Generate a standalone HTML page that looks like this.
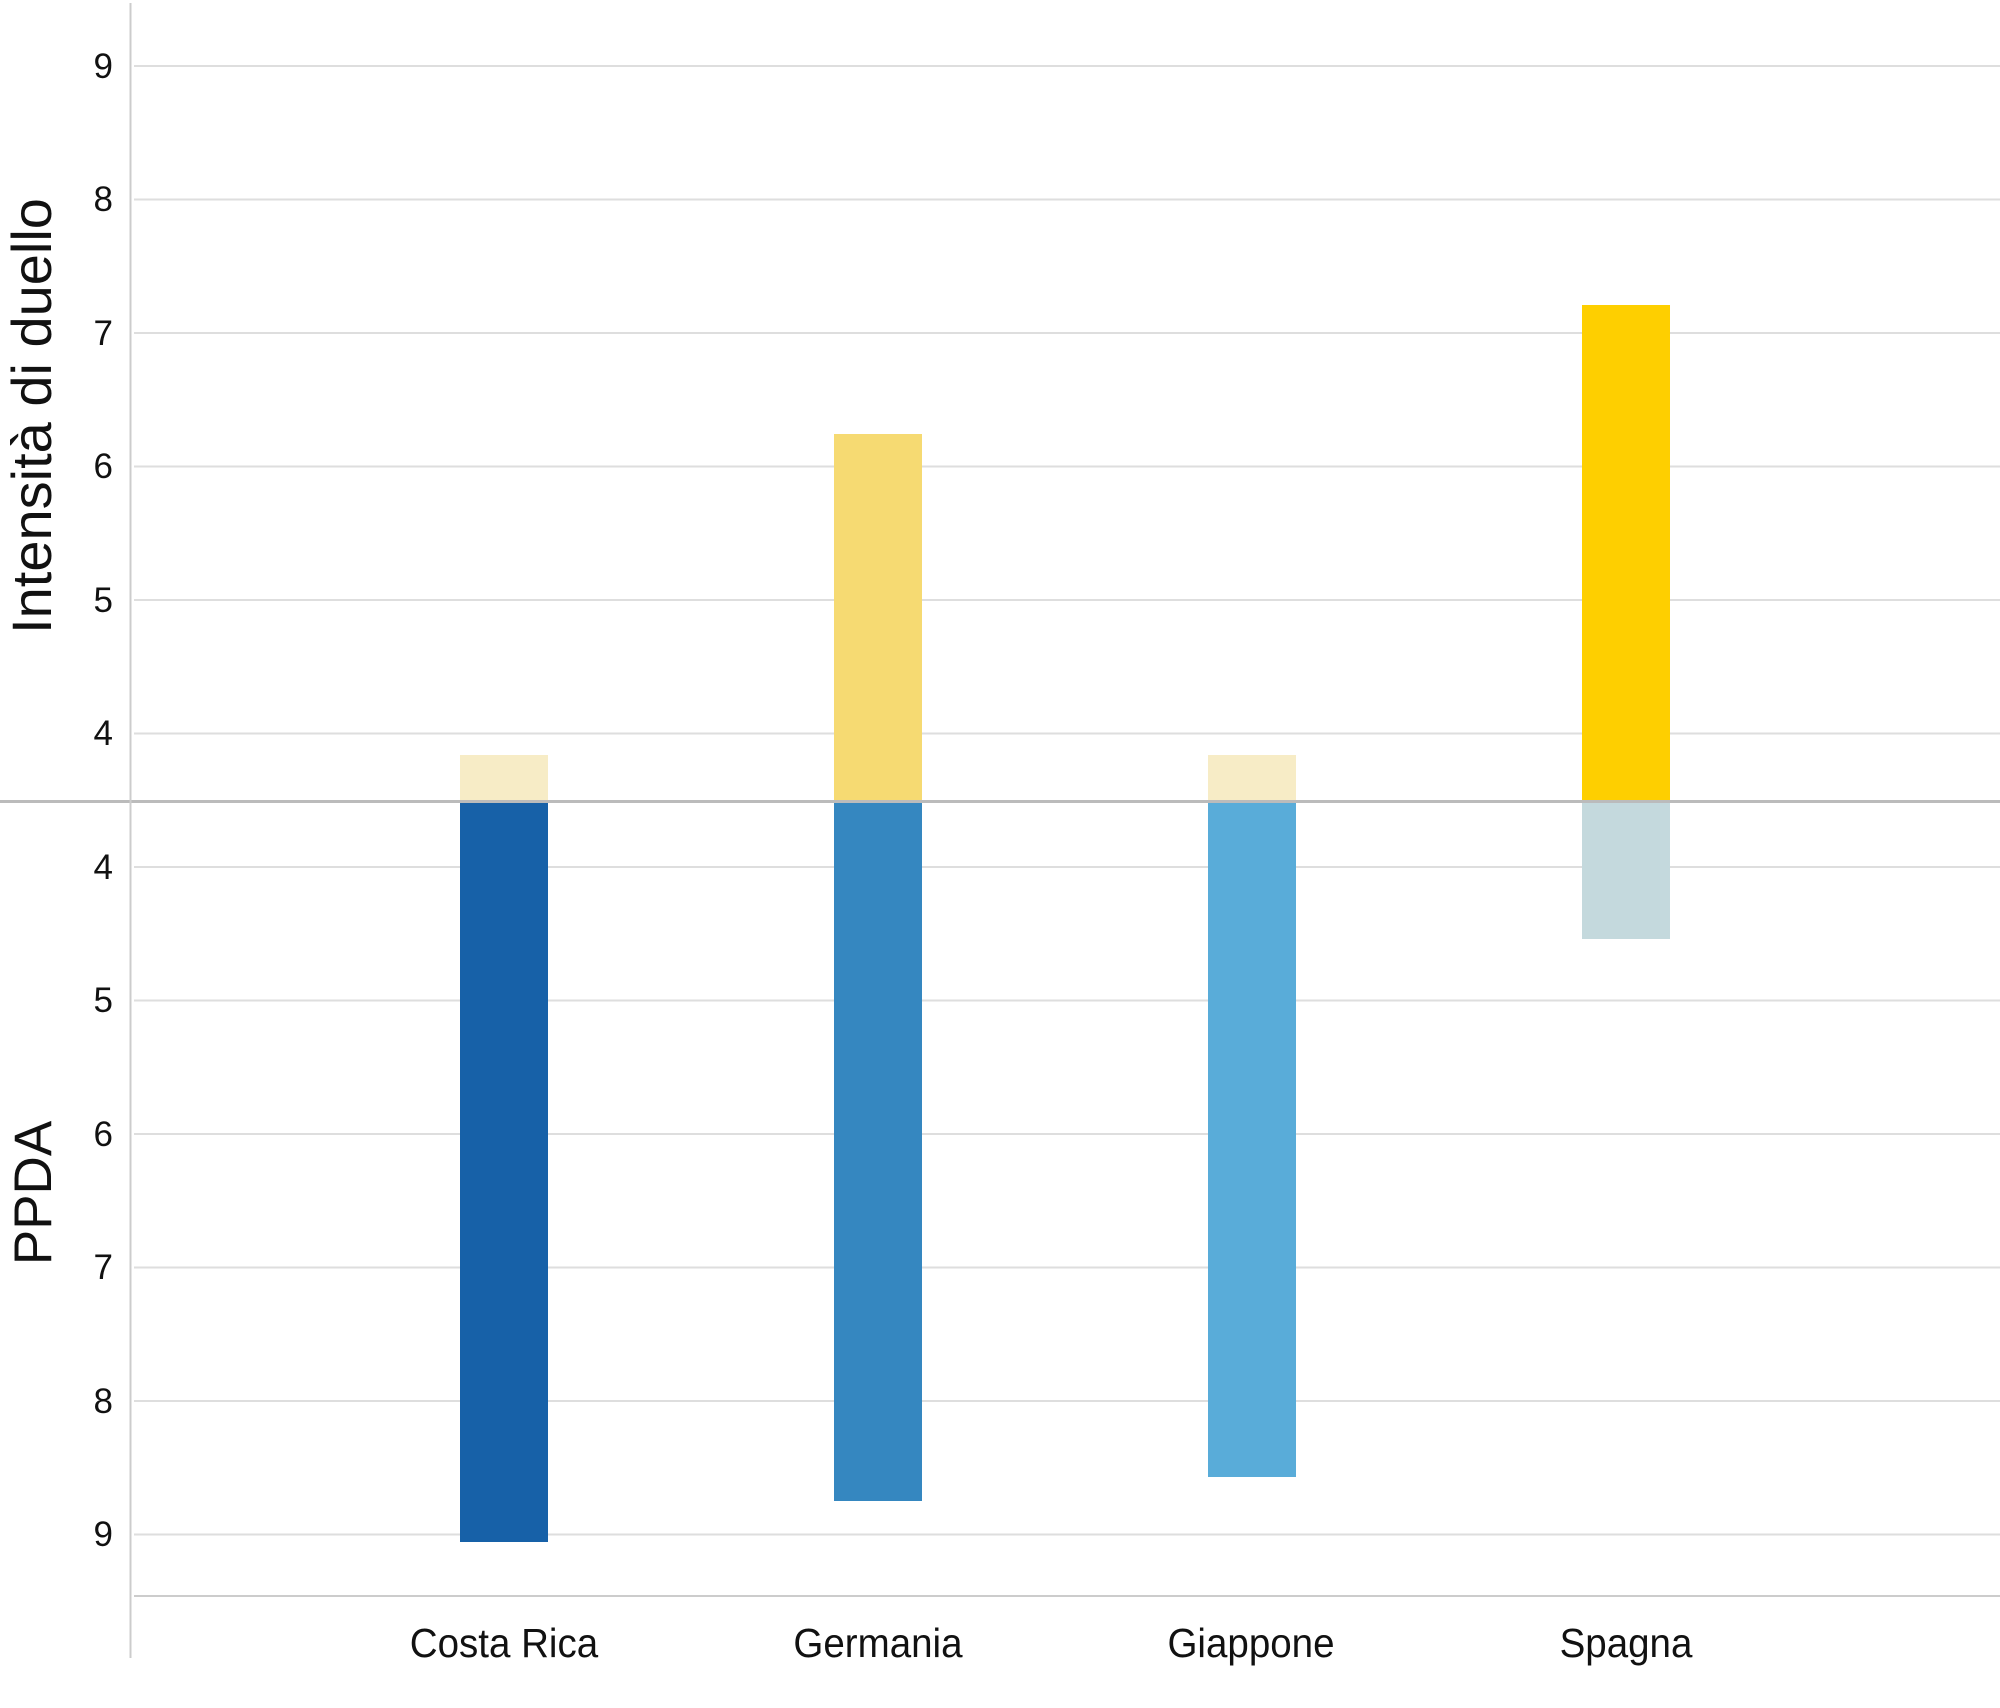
<!DOCTYPE html>
<html><head><meta charset="utf-8"><style>
html,body{margin:0;padding:0;background:#fff;}
svg text{font-family:"Liberation Sans",sans-serif;fill:#111;}
</style></head><body>
<svg width="2000" height="1703" viewBox="0 0 2000 1703" xmlns="http://www.w3.org/2000/svg">
<g stroke="#dedede" stroke-width="2">
<line x1="134" x2="2000" y1="66" y2="66"/>
<line x1="134" x2="2000" y1="199.5" y2="199.5"/>
<line x1="134" x2="2000" y1="333" y2="333"/>
<line x1="134" x2="2000" y1="466.5" y2="466.5"/>
<line x1="134" x2="2000" y1="600" y2="600"/>
<line x1="134" x2="2000" y1="733.5" y2="733.5"/>
<line x1="134" x2="2000" y1="867" y2="867"/>
<line x1="134" x2="2000" y1="1000.5" y2="1000.5"/>
<line x1="134" x2="2000" y1="1134" y2="1134"/>
<line x1="134" x2="2000" y1="1267.5" y2="1267.5"/>
<line x1="134" x2="2000" y1="1401" y2="1401"/>
<line x1="134" x2="2000" y1="1534.5" y2="1534.5"/>
</g>
<g font-size="35" text-anchor="end">
<text x="113" y="78">9</text><text x="113" y="211">8</text><text x="113" y="345">7</text>
<text x="113" y="478">6</text><text x="113" y="612">5</text><text x="113" y="745">4</text>
<text x="113" y="879">4</text><text x="113" y="1012">5</text><text x="113" y="1146">6</text>
<text x="113" y="1279">7</text><text x="113" y="1413">8</text><text x="113" y="1546">9</text>
</g>
<rect x="460" y="755" width="88" height="46" fill="#f7ecc6"/>
<rect x="460" y="801" width="88" height="741" fill="#1761a8"/>
<rect x="834" y="434" width="88" height="367" fill="#f6da72"/>
<rect x="834" y="801" width="88" height="700" fill="#3587c0"/>
<rect x="1208" y="755" width="88" height="46" fill="#f7ecc6"/>
<rect x="1208" y="801" width="88" height="676" fill="#59acd9"/>
<rect x="1582" y="305" width="88" height="496" fill="#fecf00"/>
<rect x="1582" y="801" width="88" height="138" fill="#c4d9dd"/>
<line x1="0" x2="2000" y1="801.5" y2="801.5" stroke="#bbb" stroke-width="3"/>
<line x1="130.5" x2="130.5" y1="3" y2="1658" stroke="#ccc" stroke-width="2"/>
<line x1="134" x2="2000" y1="1596" y2="1596" stroke="#ccc" stroke-width="2"/>
<g font-size="41" text-anchor="middle">
<text x="504" y="1657" transform="translate(504 0) scale(0.94 1) translate(-504 0)">Costa Rica</text>
<text x="878" y="1657" transform="translate(878 0) scale(0.94 1) translate(-878 0)">Germania</text>
<text x="1251" y="1657" transform="translate(1251 0) scale(0.94 1) translate(-1251 0)">Giappone</text>
<text x="1626" y="1657" transform="translate(1626 0) scale(0.94 1) translate(-1626 0)">Spagna</text>
</g>
<text font-size="56" text-anchor="middle" transform="translate(51 416) rotate(-90)">Intensità di duello</text>
<text font-size="53" text-anchor="middle" transform="translate(51 1193) rotate(-90)">PPDA</text>
</svg>
</body></html>
